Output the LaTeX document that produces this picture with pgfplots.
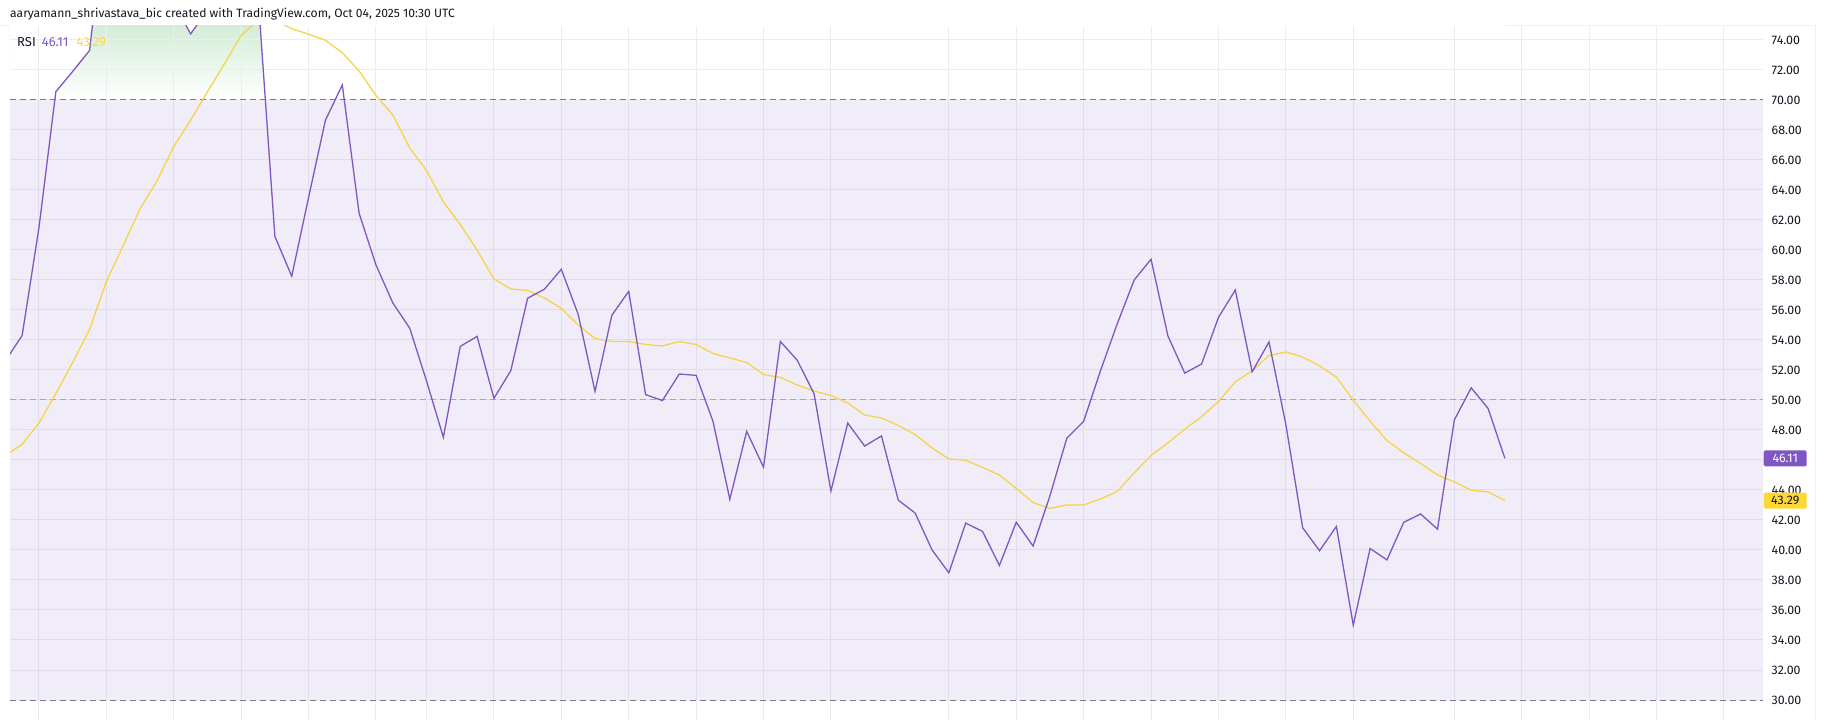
\documentclass[border=0pt]{standalone}
\usepackage{fontspec}
\setmainfont{Fira Sans}
\usepackage{pgfplots}
\usepackage{pgfplotstable}
\pgfplotsset{compat=1.18}
\definecolor{rsic}{HTML}{7E57C2}
\definecolor{mac}{HTML}{F6D44A}
\definecolor{mabadge}{HTML}{FDD835}
\definecolor{gridc}{HTML}{ECECF2}
\definecolor{txt}{HTML}{131722}
\definecolor{dashc}{HTML}{787B86}
\definecolor{midc}{HTML}{A9A5B8}
\definecolor{greentop}{HTML}{D4EDD8}
\definecolor{sepc}{HTML}{EEF0F4}

\pgfplotstableread{
k rsi ma
0 52.6 46.3
1 54.3 47.05
2 61.5 48.46
3 70.55 50.42
4 71.9 52.5
5 73.3 54.7
6 83 57.9
7 80 60.3
8 77 62.75
9 78 64.6
10 76.5 66.9
11 74.4 68.65
12 76 70.55
13 78 72.4
14 78.5 74.3
15 77 75.3
16 60.9 75.3
17 58.25 74.75
18 63.5 74.38
19 68.65 73.98
20 71.0 73.15
21 62.44 71.93
22 59.0 70.3
23 56.47 69.0
24 54.79 66.8
25 51.27 65.3
26 47.51 63.2
27 53.57 61.7
28 54.24 60.0
29 50.11 58.07
30 51.95 57.4
31 56.78 57.3
32 57.39 56.8
33 58.71 56.1
34 55.71 55.0
35 50.57 54.1
36 55.65 53.9
37 57.24 53.9
38 50.36 53.7
39 49.96 53.6
40 51.73 53.9
41 51.64 53.7
42 48.58 53.1
43 43.38 52.8
44 47.91 52.5
45 45.52 51.7
46 53.9 51.5
47 52.65 51.0
48 50.42 50.6
49 43.93 50.3
50 48.46 49.8
51 46.93 49.0
52 47.6 48.8
53 43.32 48.3
54 42.46 47.7
55 40.01 46.8
56 38.48 46.07
57 41.79 45.98
58 41.24 45.5
59 38.97 45.0
60 41.85 44.1
61 40.26 43.16
62 43.62 42.77
63 47.45 43.0
64 48.58 43.0
65 51.95 43.4
66 55.10 43.9
67 58.0 45.15
68 59.38 46.3
69 54.27 47.14
70 51.79 48.06
71 52.4 48.89
72 55.5 49.9
73 57.33 51.21
74 51.88 51.95
75 53.87 52.96
76 48.37 53.2
77 41.48 52.86
78 39.95 52.28
79 41.57 51.52
80 34.99 49.99
81 40.1 48.58
82 39.34 47.3
83 41.85 46.47
84 42.4 45.77
85 41.39 45.0
86 48.67 44.54
87 50.81 43.99
88 49.44 43.87
89 46.11 43.29
}\rsidata

\begin{document}
\begin{tikzpicture}
\fill[white] (0pt,0pt) rectangle (1825pt,721pt);
\node[anchor=base west, inner sep=0pt, text=txt, font=\fontsize{12.1}{14}\selectfont] at (10pt,703pt)
  {aaryamann\_shrivastava\_bic created with TradingView.com, Oct 04, 2025 10:30 UTC};
\draw[sepc, line width=1pt] (0pt,695pt) -- (1816pt,695pt);
\draw[sepc, line width=1pt] (1815.5pt,0pt) -- (1815.5pt,695pt);
\begin{axis}[
  at={(10pt,0pt)}, anchor=south west,
  scale only axis, width=1753pt, height=695pt,
  xmin=0.279, xmax=104.32, ymin=28.6, ymax=74.93,
  axis line style={draw=none},
  major tick length=0pt,
  xtick=\empty,
  ytick={30,32,...,74},
  yticklabels={30.00,32.00,34.00,36.00,38.00,40.00,42.00,44.00,,48.00,50.00,52.00,54.00,56.00,58.00,60.00,62.00,64.00,66.00,68.00,70.00,72.00,74.00},
  yticklabel pos=right,
  yticklabel style={anchor=west, inner sep=0pt, text=txt, font=\fontsize{12.4}{14}\selectfont},
  yticklabel shift=8.5pt,
]
\shade[top color=greentop, bottom color=white] (axis cs:0.279,70) rectangle (axis cs:30,74.93);
\addplot[fill=white, draw=none, forget plot] table[x=k, y=rsi] {\rsidata} -- (axis cs:89,100) -- (axis cs:0,100) -- cycle;
\pgfplotsinvokeforeach{30,32,...,74}{\draw[gridc, line width=1pt] (axis cs:0.279,#1) -- (axis cs:104.32,#1);}
\pgfplotsinvokeforeach{2,6,10,14,18,22,25,29,33,37,41,45,49,56,60,64,68,72,76,80,86,90,94,98,102}{\draw[gridc, line width=1pt] (axis cs:#1,28.6) -- (axis cs:#1,74.93);}
\fill[rsic, fill opacity=0.1] (axis cs:0.279,30) rectangle (axis cs:104.32,70);
\draw[dashc, line width=1pt, dash pattern=on 6pt off 4pt] (axis cs:0.279,70) -- (axis cs:104.32,70);
\draw[dashc, line width=1pt, dash pattern=on 6pt off 4pt] (axis cs:0.279,30) -- (axis cs:104.32,30);
\draw[midc, line width=1pt, dash pattern=on 6pt off 4pt] (axis cs:0.279,50) -- (axis cs:104.32,50);
\addplot[mac, line width=1.3pt, forget plot] table[x=k, y=ma] {\rsidata};
\addplot[rsic, line width=1.3pt, forget plot] table[x=k, y=rsi] {\rsidata};
\coordinate (b1) at (axis cs:104.32,46.11);
\coordinate (b2) at (axis cs:104.32,43.29);
\end{axis}
\node[anchor=west, fill=rsic, text=white, rounded corners=1.5pt, minimum width=43pt, minimum height=16pt, inner sep=0pt, xshift=0.5pt, font=\fontsize{12.4}{14}\selectfont] at (b1) {46.11};
\node[anchor=west, fill=mabadge, text=txt, rounded corners=1.5pt, minimum width=43pt, minimum height=16pt, inner sep=0pt, xshift=0.5pt, font=\fontsize{12.4}{14}\selectfont] at (b2) {43.29};
\node[anchor=base west, inner sep=0pt, font=\fontsize{13}{15}\selectfont] at (17pt,674.5pt)
  {\textcolor{txt}{RSI}\hspace{6pt}\textcolor{rsic}{46.11}\hspace{8pt}\textcolor{mabadge}{43.29}};
\pgfresetboundingbox
\path[use as bounding box] (0pt,0pt) rectangle (1825pt,721pt);
\end{tikzpicture}
\end{document}
